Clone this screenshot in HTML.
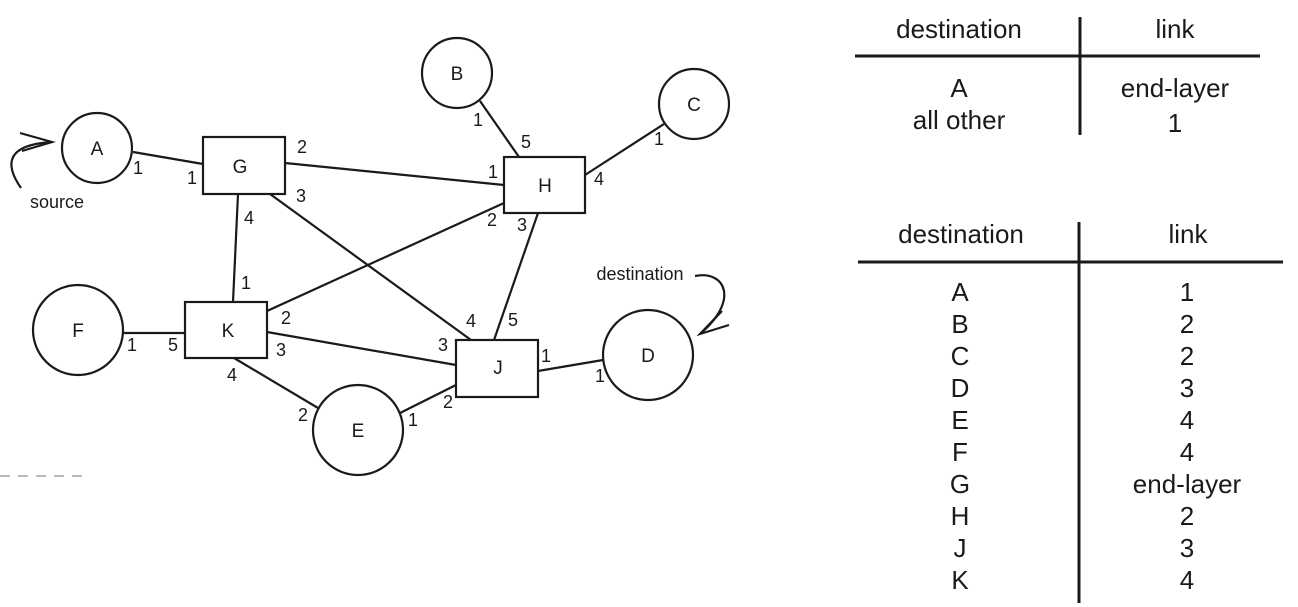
<!DOCTYPE html>
<html><head><meta charset="utf-8"><style>
html,body{margin:0;padding:0;background:#fff;}
svg{display:block;}
text{font-family:"Liberation Sans",Arial,sans-serif;fill:#1a1a1a;}
</style></head><body>
<svg width="1298" height="607" viewBox="0 0 1298 607" xmlns="http://www.w3.org/2000/svg">
<g stroke="#1a1a1a" stroke-width="2.2" fill="none">
<!-- edges -->
<line x1="133" y1="152" x2="203" y2="164"/>
<line x1="285" y1="163" x2="504" y2="185"/>
<line x1="480" y1="101" x2="519" y2="157"/>
<line x1="664" y1="124" x2="585" y2="175"/>
<line x1="504" y1="203" x2="267" y2="311"/>
<line x1="538" y1="213" x2="494" y2="340"/>
<line x1="238" y1="194" x2="233" y2="302"/>
<line x1="270" y1="194" x2="471" y2="340"/>
<line x1="123" y1="333" x2="185" y2="333"/>
<line x1="267" y1="332" x2="456" y2="365"/>
<line x1="234" y1="358" x2="318" y2="408"/>
<line x1="400" y1="413" x2="456" y2="385"/>
<line x1="538" y1="371" x2="603" y2="360"/>
<!-- nodes -->
<circle cx="97" cy="148" r="35" fill="#fff"/>
<circle cx="457" cy="73" r="35" fill="#fff"/>
<circle cx="694" cy="104" r="35" fill="#fff"/>
<circle cx="78" cy="330" r="45" fill="#fff"/>
<circle cx="358" cy="430" r="45" fill="#fff"/>
<circle cx="648" cy="355" r="45" fill="#fff"/>
<rect x="203" y="137" width="82" height="57" fill="#fff"/>
<rect x="504" y="157" width="81" height="56" fill="#fff"/>
<rect x="185" y="302" width="82" height="56" fill="#fff"/>
<rect x="456" y="340" width="82" height="57" fill="#fff"/>
<!-- source arrow -->
<path d="M21 188 C5 165 5 145 52 142"/>
<path d="M20 133 L52 142 L22 151"/>
<!-- destination arrow -->
<path d="M695 276 C725 270 740 300 700 334"/>
<path d="M722 311 L700 334 L729 325"/>
</g>
<g stroke="#bbb" stroke-width="2" stroke-dasharray="10,8"><line x1="0" y1="476" x2="84" y2="476"/></g>
<!-- table lines -->
<g stroke="#1a1a1a" stroke-width="3">
<line x1="855" y1="56" x2="1260" y2="56"/>
<line x1="1080" y1="17" x2="1080" y2="135"/>
<line x1="858" y1="262" x2="1283" y2="262"/>
<line x1="1079" y1="222" x2="1079" y2="603"/>
</g>
<!-- node labels -->
<g font-size="19" text-anchor="middle">
<text x="97" y="155">A</text>
<text x="457" y="80">B</text>
<text x="694" y="111">C</text>
<text x="78" y="337">F</text>
<text x="358" y="437">E</text>
<text x="648" y="362">D</text>
<text x="240" y="173">G</text>
<text x="545" y="192">H</text>
<text x="228" y="337">K</text>
<text x="498" y="374">J</text>
</g>
<!-- port labels -->
<g font-size="18" text-anchor="middle">
<text x="138" y="174">1</text>
<text x="192" y="184">1</text>
<text x="302" y="153">2</text>
<text x="301" y="202">3</text>
<text x="249" y="224">4</text>
<text x="246" y="289">1</text>
<text x="286" y="324">2</text>
<text x="281" y="356">3</text>
<text x="232" y="381">4</text>
<text x="132" y="351">1</text>
<text x="173" y="351">5</text>
<text x="303" y="421">2</text>
<text x="413" y="426">1</text>
<text x="448" y="408">2</text>
<text x="443" y="351">3</text>
<text x="471" y="327">4</text>
<text x="513" y="326">5</text>
<text x="546" y="362">1</text>
<text x="600" y="382">1</text>
<text x="493" y="178">1</text>
<text x="492" y="226">2</text>
<text x="522" y="231">3</text>
<text x="526" y="148">5</text>
<text x="478" y="126">1</text>
<text x="599" y="185">4</text>
<text x="659" y="145">1</text>
<text x="57" y="208">source</text>
<text x="640" y="280">destination</text>
</g>
<!-- tables -->
<g font-size="26" text-anchor="middle">
<text x="959" y="38">destination</text>
<text x="1175" y="38">link</text>
<text x="959" y="97">A</text>
<text x="959" y="129">all other</text>
<text x="1175" y="97">end-layer</text>
<text x="1175" y="132">1</text>
<text x="961" y="243">destination</text>
<text x="1188" y="243">link</text>
<text x="960" y="301">A</text><text x="1187" y="301">1</text>
<text x="960" y="333">B</text><text x="1187" y="333">2</text>
<text x="960" y="365">C</text><text x="1187" y="365">2</text>
<text x="960" y="397">D</text><text x="1187" y="397">3</text>
<text x="960" y="429">E</text><text x="1187" y="429">4</text>
<text x="960" y="461">F</text><text x="1187" y="461">4</text>
<text x="960" y="493">G</text><text x="1187" y="493">end-layer</text>
<text x="960" y="525">H</text><text x="1187" y="525">2</text>
<text x="960" y="557">J</text><text x="1187" y="557">3</text>
<text x="960" y="589">K</text><text x="1187" y="589">4</text>
</g>
</svg>
</body></html>
